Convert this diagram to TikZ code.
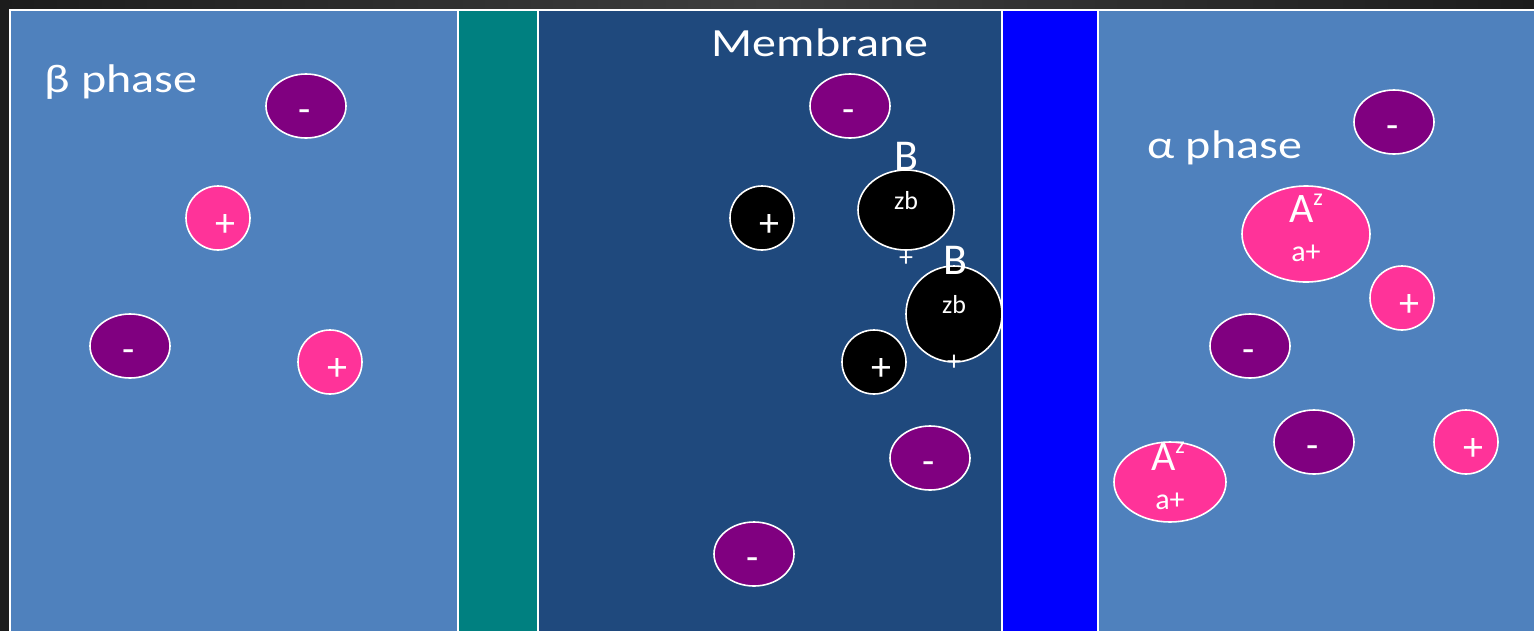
\documentclass[tikz,border=0pt]{standalone}
\usepackage{fontspec}
\setmainfont{Carlito}
\usetikzlibrary{shapes.geometric}
\definecolor{phasecol}{HTML}{4F81BD}
\definecolor{tealcol}{HTML}{008080}
\definecolor{memcol}{HTML}{1F497D}
\definecolor{bluecol}{HTML}{0000FF}
\definecolor{negcol}{HTML}{800080}
\definecolor{poscol}{HTML}{FF3399}
\definecolor{bgdark}{HTML}{1C1C1C}
\definecolor{bgmid}{HTML}{3E3E3E}
\newcommand{\fs}[1]{\fontsize{#1}{#1}\selectfont}
\newcommand{\Az}{A\raisebox{17pt}{\fs{24}z}}
\tikzset{
  regionline/.style={draw=white, line width=2pt},
  ion/.style={ellipse, draw=white, line width=1.6pt, inner sep=0pt, text=white},
  negion/.style={ion, fill=negcol, minimum width=80pt, minimum height=64pt},
  posion/.style={ion, fill=poscol, minimum width=64pt, minimum height=64pt},
  blkion/.style={ion, fill=black, minimum width=64pt, minimum height=64pt},
  bigblk/.style={ion, fill=black},
  bigpos/.style={ion, fill=poscol},
  txt/.style={text=white, inner sep=0pt},
  lbltxt/.style={txt, font=\fs{40}, xscale=1.2},
  signtxt/.style={txt, font=\fs{40}},
  btxt/.style={txt, font=\fs{44}},
  zbtxt/.style={txt, font=\fs{26}},
  smallplus/.style={txt, font=\fs{28}},
  atxt/.style={txt, font=\fs{42}},
  aptxt/.style={txt, font=\fs{30}},
}
\begin{document}
\begin{tikzpicture}[x=1pt,y=-1pt]
\useasboundingbox (0,0) rectangle (1534,630);
\shade[left color=bgdark, right color=bgdark, middle color=bgmid] (0,0) rectangle (1534,630);
% regions
\fill[phasecol] (10,10) rectangle (458,632);
\fill[tealcol] (458,10) rectangle (538,632);
\fill[memcol] (538,10) rectangle (1002,632);
\fill[bluecol] (1002,10) rectangle (1098,632);
\fill[phasecol] (1098,10) rectangle (1540,632);
\draw[regionline] (10,640) -- (10,10) -- (1540,10);
\draw[regionline] (458,10) -- (458,640);
\draw[regionline] (538,10) -- (538,640);
\draw[regionline] (1002,10) -- (1002,640);
\draw[regionline] (1098,10) -- (1098,640);
% labels
\node[lbltxt] (betalbl) at (121,82) {β phase};
\node[lbltxt] (memlbl) at (820,43) {Membrane};
\node[lbltxt] (alphalbl) at (1225,148) {α phase};
% beta phase ions
\node[negion] (b1) at (306,106) {};
\node[signtxt] at ([xshift=-1pt,yshift=-10pt]b1.center) {-};
\node[posion] (b2) at (218,218) {};
\node[signtxt] at ([xshift=7pt,yshift=-7pt]b2.center) {+};
\node[negion] (b3) at (130,346) {};
\node[signtxt] at ([xshift=-1pt,yshift=-10pt]b3.center) {-};
\node[posion] (b4) at (330,362) {};
\node[signtxt] at ([xshift=7pt,yshift=-7pt]b4.center) {+};
% membrane ions
\node[negion] (m1) at (850,106) {};
\node[signtxt] at ([xshift=-1pt,yshift=-10pt]m1.center) {-};
\node[blkion] (m2) at (762,218) {};
\node[signtxt] at ([xshift=7pt,yshift=-7pt]m2.center) {+};
\node[bigblk, minimum width=96pt, minimum height=80pt] (m3) at (906,210) {};
\node[btxt] (m3b) at (906,156) {B};
\node[zbtxt] (m3z) at (906,201) {zb};
\node[smallplus] (m3p) at (906,259) {+};
\node[bigblk, minimum width=96pt, minimum height=96pt] (m4) at (954,314) {};
\node[btxt] (m4b) at (955,260) {B};
\node[zbtxt] (m4z) at (954,305) {zb};
\node[smallplus] (m4p) at (954,363) {+};
\node[blkion] (m5) at (874,362) {};
\node[signtxt] at ([xshift=7pt,yshift=-7pt]m5.center) {+};
\node[negion] (m6) at (930,458) {};
\node[signtxt] at ([xshift=-1pt,yshift=-10pt]m6.center) {-};
\node[negion] (m7) at (754,554) {};
\node[signtxt] at ([xshift=-1pt,yshift=-10pt]m7.center) {-};
% alpha phase ions
\node[negion] (a1) at (1394,122) {};
\node[signtxt] at ([xshift=-1pt,yshift=-10pt]a1.center) {-};
\node[bigpos, minimum width=128pt, minimum height=96pt] (a2) at (1306,234) {};
\node[atxt] (a2A) at (1306,208) {\Az};
\node[aptxt] (a2a) at (1306,253) {a+};
\node[posion] (a3) at (1402,298) {};
\node[signtxt] at ([xshift=7pt,yshift=-7pt]a3.center) {+};
\node[negion] (a4) at (1250,346) {};
\node[signtxt] at ([xshift=-1pt,yshift=-10pt]a4.center) {-};
\node[negion] (a5) at (1314,442) {};
\node[signtxt] at ([xshift=-1pt,yshift=-10pt]a5.center) {-};
\node[posion] (a6) at (1466,442) {};
\node[signtxt] at ([xshift=7pt,yshift=-7pt]a6.center) {+};
\node[bigpos, minimum width=112pt, minimum height=80pt] (a7) at (1170,482) {};
\node[atxt] (a7A) at (1168,456) {\Az};
\node[aptxt] (a7a) at (1170,501) {a+};
\end{tikzpicture}
\end{document}
